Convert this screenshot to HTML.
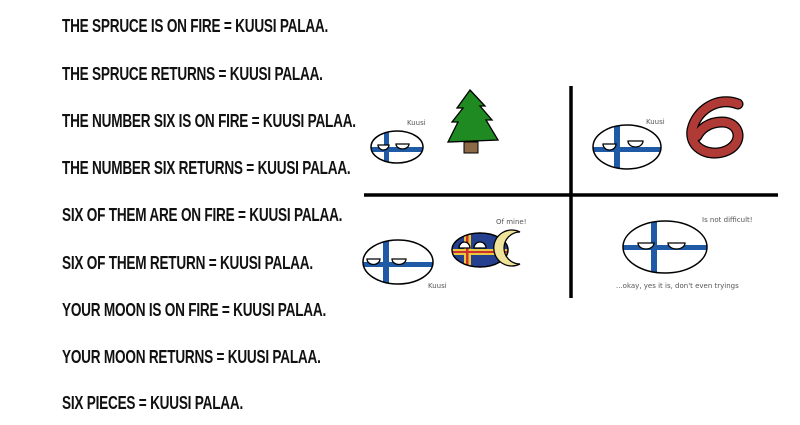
<!DOCTYPE html>
<html><head><meta charset="utf-8"><style>
body{margin:0;width:800px;height:425px;background:#fff;overflow:hidden;position:relative}
.t{position:absolute;left:62px;font-family:"Liberation Sans Narrow","Liberation Sans",sans-serif;font-weight:bold;font-size:18px;color:#111;white-space:nowrap;transform-origin:0 0;transform:scaleX(0.755);letter-spacing:-0.3px}
svg{position:absolute;left:0;top:0}
svg text{font-family:"DejaVu Sans",sans-serif;font-size:7px;fill:#555}
</style></head><body>
<div class="t" style="top:16px">THE SPRUCE IS ON FIRE = KUUSI PALAA.</div>
<div class="t" style="top:64px">THE SPRUCE RETURNS = KUUSI PALAA.</div>
<div class="t" style="top:111px">THE NUMBER SIX IS ON FIRE = KUUSI PALAA.</div>
<div class="t" style="top:158px">THE NUMBER SIX RETURNS = KUUSI PALAA.</div>
<div class="t" style="top:205px">SIX OF THEM ARE ON FIRE = KUUSI PALAA.</div>
<div class="t" style="top:253px">SIX OF THEM RETURN = KUUSI PALAA.</div>
<div class="t" style="top:300px">YOUR MOON IS ON FIRE = KUUSI PALAA.</div>
<div class="t" style="top:347px">YOUR MOON RETURNS = KUUSI PALAA.</div>
<div class="t" style="top:393px">SIX PIECES = KUUSI PALAA.</div>
<svg width="800" height="425">
<defs>
<clipPath id="c1"><ellipse cx="397" cy="147" rx="26" ry="16"/></clipPath>
<clipPath id="c2"><ellipse cx="627" cy="147" rx="34" ry="22"/></clipPath>
<clipPath id="c3"><ellipse cx="398" cy="262" rx="35" ry="22"/></clipPath>
<clipPath id="c4"><ellipse cx="665" cy="247" rx="42" ry="26"/></clipPath>
<clipPath id="c5"><ellipse cx="480" cy="250" rx="28" ry="17"/></clipPath>
</defs>
<line x1="571" y1="86" x2="571" y2="298" stroke="#000" stroke-width="3.5"/>
<line x1="364" y1="195" x2="778" y2="195" stroke="#000" stroke-width="3.5"/>
<!-- ball 1 -->
<ellipse cx="397" cy="147" rx="26" ry="16" fill="#fff"/>
<g clip-path="url(#c1)"><rect x="370" y="147" width="60" height="5" fill="#1f5aa6"/><rect x="384" y="128" width="5" height="40" fill="#1f5aa6"/></g>
<ellipse cx="397" cy="147" rx="26" ry="16" fill="none" stroke="#000" stroke-width="1.5"/>
<path d="M378 145 h11 a5.5 5 0 0 1 -11 0z M396 144 h13 a6.5 5 0 0 1 -13 0z" fill="#fff" stroke="#000" stroke-width="1.3"/>
<text x="407" y="125">Kuusi</text>
<!-- tree -->
<rect x="464" y="142" width="14" height="11" fill="#8b6a48" stroke="#000"/>
<path d="M470 90 L485 106 L480 106 L492 120 L486 120 L498 140 L448 142 L458 122 L452 122 L463 108 L457 108Z" fill="#1f8a22" stroke="#000" stroke-width="1.3"/>
<!-- ball 2 -->
<ellipse cx="627" cy="147" rx="34" ry="22" fill="#fff"/>
<g clip-path="url(#c2)"><rect x="590" y="147" width="80" height="5" fill="#1f5aa6"/><rect x="614" y="120" width="6" height="55" fill="#1f5aa6"/></g>
<ellipse cx="627" cy="147" rx="34" ry="22" fill="none" stroke="#000" stroke-width="1.5"/>
<path d="M603 144 h13 a6.5 6 0 0 1 -13 0z M628 141 h15 a7.5 6 0 0 1 -15 0z" fill="#fff" stroke="#000" stroke-width="1.3"/>
<text x="646" y="124">Kuusi</text>
<path d="M738 104 C718 96 696 110 692 130 C689 150 712 158 728 150 C744 142 740 122 722 122 C708 122 700 130 697 136" fill="none" stroke="#000" stroke-width="11" stroke-linecap="round"/>
<path d="M738 104 C718 96 696 110 692 130 C689 150 712 158 728 150 C744 142 740 122 722 122 C708 122 700 130 697 136" fill="none" stroke="#b03a36" stroke-width="8.5" stroke-linecap="round"/>
<!-- ball 3 -->
<ellipse cx="398" cy="262" rx="35" ry="22" fill="#fff"/>
<g clip-path="url(#c3)"><rect x="360" y="262" width="80" height="5" fill="#1f5aa6"/><rect x="383" y="235" width="6" height="55" fill="#1f5aa6"/></g>
<ellipse cx="398" cy="262" rx="35" ry="22" fill="none" stroke="#000" stroke-width="1.5"/>
<path d="M367 259 h13 a6.5 5.5 0 0 1 -13 0z M392 259 h14 a7 5.5 0 0 1 -14 0z" fill="#fff" stroke="#000" stroke-width="1.3"/>
<text x="428" y="288">Kuusi</text>
<!-- aland -->
<ellipse cx="480" cy="250" rx="28" ry="17" fill="#24408f"/>
<g clip-path="url(#c5)"><rect x="450" y="249" width="60" height="6" fill="#e8c93c"/><rect x="464" y="230" width="7" height="40" fill="#e8c93c"/><rect x="450" y="251" width="60" height="2" fill="#d23030"/><rect x="466" y="230" width="2.5" height="40" fill="#d23030"/></g>
<ellipse cx="480" cy="250" rx="28" ry="17" fill="none" stroke="#000" stroke-width="1.5"/>
<path d="M459 248 h11 a5.5 6 0 0 1 11 0z" transform="translate(0,0)" fill="none"/>
<path d="M459 248 h11 a5.5 6 0 0 0 -11 0z M474 248 h12 a6 6 0 0 0 -12 0z" fill="#fff" stroke="#000" stroke-width="1.3"/>
<path d="M520 232 A18 18 0 1 0 520 264 A13 13 0 1 1 520 232Z" fill="#efe29a" stroke="#000" stroke-width="1.3"/>
<text x="496" y="224">Of mine!</text>
<!-- ball 4 -->
<ellipse cx="665" cy="247" rx="42" ry="26" fill="#fff"/>
<g clip-path="url(#c4)"><rect x="620" y="245" width="90" height="5" fill="#1f5aa6"/><rect x="651" y="218" width="6" height="60" fill="#1f5aa6"/></g>
<ellipse cx="665" cy="247" rx="42" ry="26" fill="none" stroke="#000" stroke-width="1.5"/>
<path d="M638 243 h16 a8 6 0 0 1 -16 0z M668 243 h17 a8.5 6 0 0 1 -17 0z" fill="#fff" stroke="#000" stroke-width="1.3"/>
<text x="702" y="222">Is not difficult!</text>
<text x="616" y="288">...okay, yes it is, don't even tryings</text>
</svg>
</body></html>
